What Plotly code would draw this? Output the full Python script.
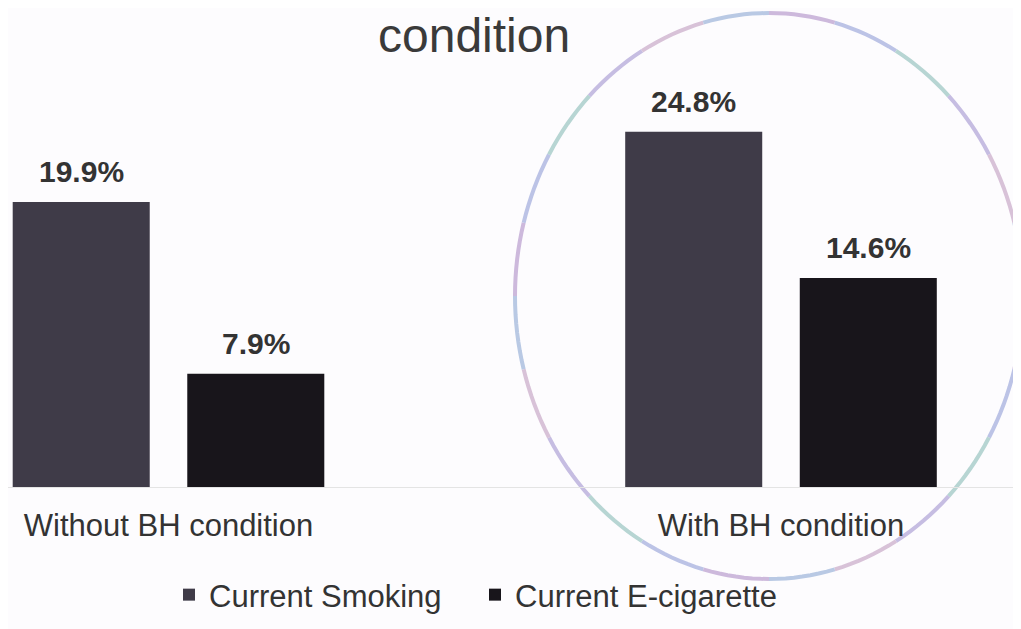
import math
import plotly.graph_objects as go

categories = ["Without BH condition", "With BH condition"]
series_names = ["Current Smoking", "Current E-cigarette"]
smoking = [19.9, 24.8]
ecig = [7.9, 14.6]
title_text = "condition"

W, H = 1021, 629
OFF = 8  # page body margin offset in the browser
colors = ["#3f3b48", "#18151b"]
FONT = "Liberation Sans, Arial, sans-serif"


def px(x):
    return (x - OFF) / W


def py(y):
    return 1 - (y - OFF) / H


xpos = list(range(len(categories)))
bargap = 0.43
bargroupgap = 0.215
unit_px = 612.5      # pixels per category
val_px = 14.32       # pixels per percentage point
base_y = 487 - OFF   # baseline in figure pixels

fig = go.Figure()
for name, vals, col in zip(series_names, [smoking, ecig], colors):
    fig.add_trace(go.Bar(x=xpos, y=vals, name=name, marker=dict(color=col, line=dict(width=0))))

# value labels above bars
slot = (1 - bargap) / 2
offsets = [-slot / 2, slot / 2]
for vals, off in zip([smoking, ecig], offsets):
    for xi, v in zip(xpos, vals):
        fig.add_annotation(x=xi + off, y=v, xref="x", yref="y", text=f"<b>{v:.1f}%</b>",
                           showarrow=False, yanchor="bottom", yshift=12,
                           font=dict(family=FONT, size=30, color="#333333"))

# title (visible second line)
fig.add_annotation(x=px(474), y=1, xref="paper", yref="paper", text=title_text,
                   showarrow=False, xanchor="center", yanchor="top", borderpad=0,
                   font=dict(family=FONT, size=48, color="#3a3a3a"))

# ellipse highlight around second group, pastel multi-tone outline
cx, cy = (515 + 1023) / 2, (13 + 579) / 2
rx, ry = (1023 - 515) / 2, (579 - 13) / 2
ring_cols = ["#cdb9dc", "#bcc3e6", "#b7d5d3", "#c6bde2", "#d8c2d8", "#b9c9e4"]
nseg = 24
for k in range(nseg):
    a0 = 2 * math.pi * k / nseg
    a1 = 2 * math.pi * (k + 1) / nseg
    pts = [a0 + (a1 - a0) * j / 8 for j in range(9)]
    path = "M " + " L ".join(f"{px(cx + rx * math.cos(a))},{py(cy + ry * math.sin(a))}" for a in pts)
    fig.add_shape(type="path", xref="paper", yref="paper", path=path,
                  line=dict(color=ring_cols[k % len(ring_cols)], width=4), layer="below")

fig.update_layout(
    width=W, height=H,
    margin=dict(l=0, r=0, t=0, b=0),
    paper_bgcolor="#fdfcfe", plot_bgcolor="rgba(0,0,0,0)",
    barmode="group", bargap=bargap, bargroupgap=bargroupgap,
    showlegend=True,
    legend=dict(orientation="h", x=px(169), xanchor="left", y=py(595), yanchor="middle",
                font=dict(family=FONT, size=31, color="#333333"), bgcolor="rgba(0,0,0,0)",
                itemwidth=30, entrywidth=261),
    xaxis=dict(range=[-(168.5 - OFF) / unit_px, (W - 168.5 + OFF) / unit_px], tickmode="array",
               tickvals=xpos, ticktext=categories, showgrid=False, zeroline=False, showline=True,
               linecolor="#e4e4e4", linewidth=1, ticks="", ticklabelstandoff=11,
               tickfont=dict(family=FONT, size=31, color="#333333"), automargin=False),
    yaxis=dict(domain=[1 - base_y / H, 1], range=[0, base_y / val_px], visible=False,
               automargin=False),
)

fig.write_html("out.html")
